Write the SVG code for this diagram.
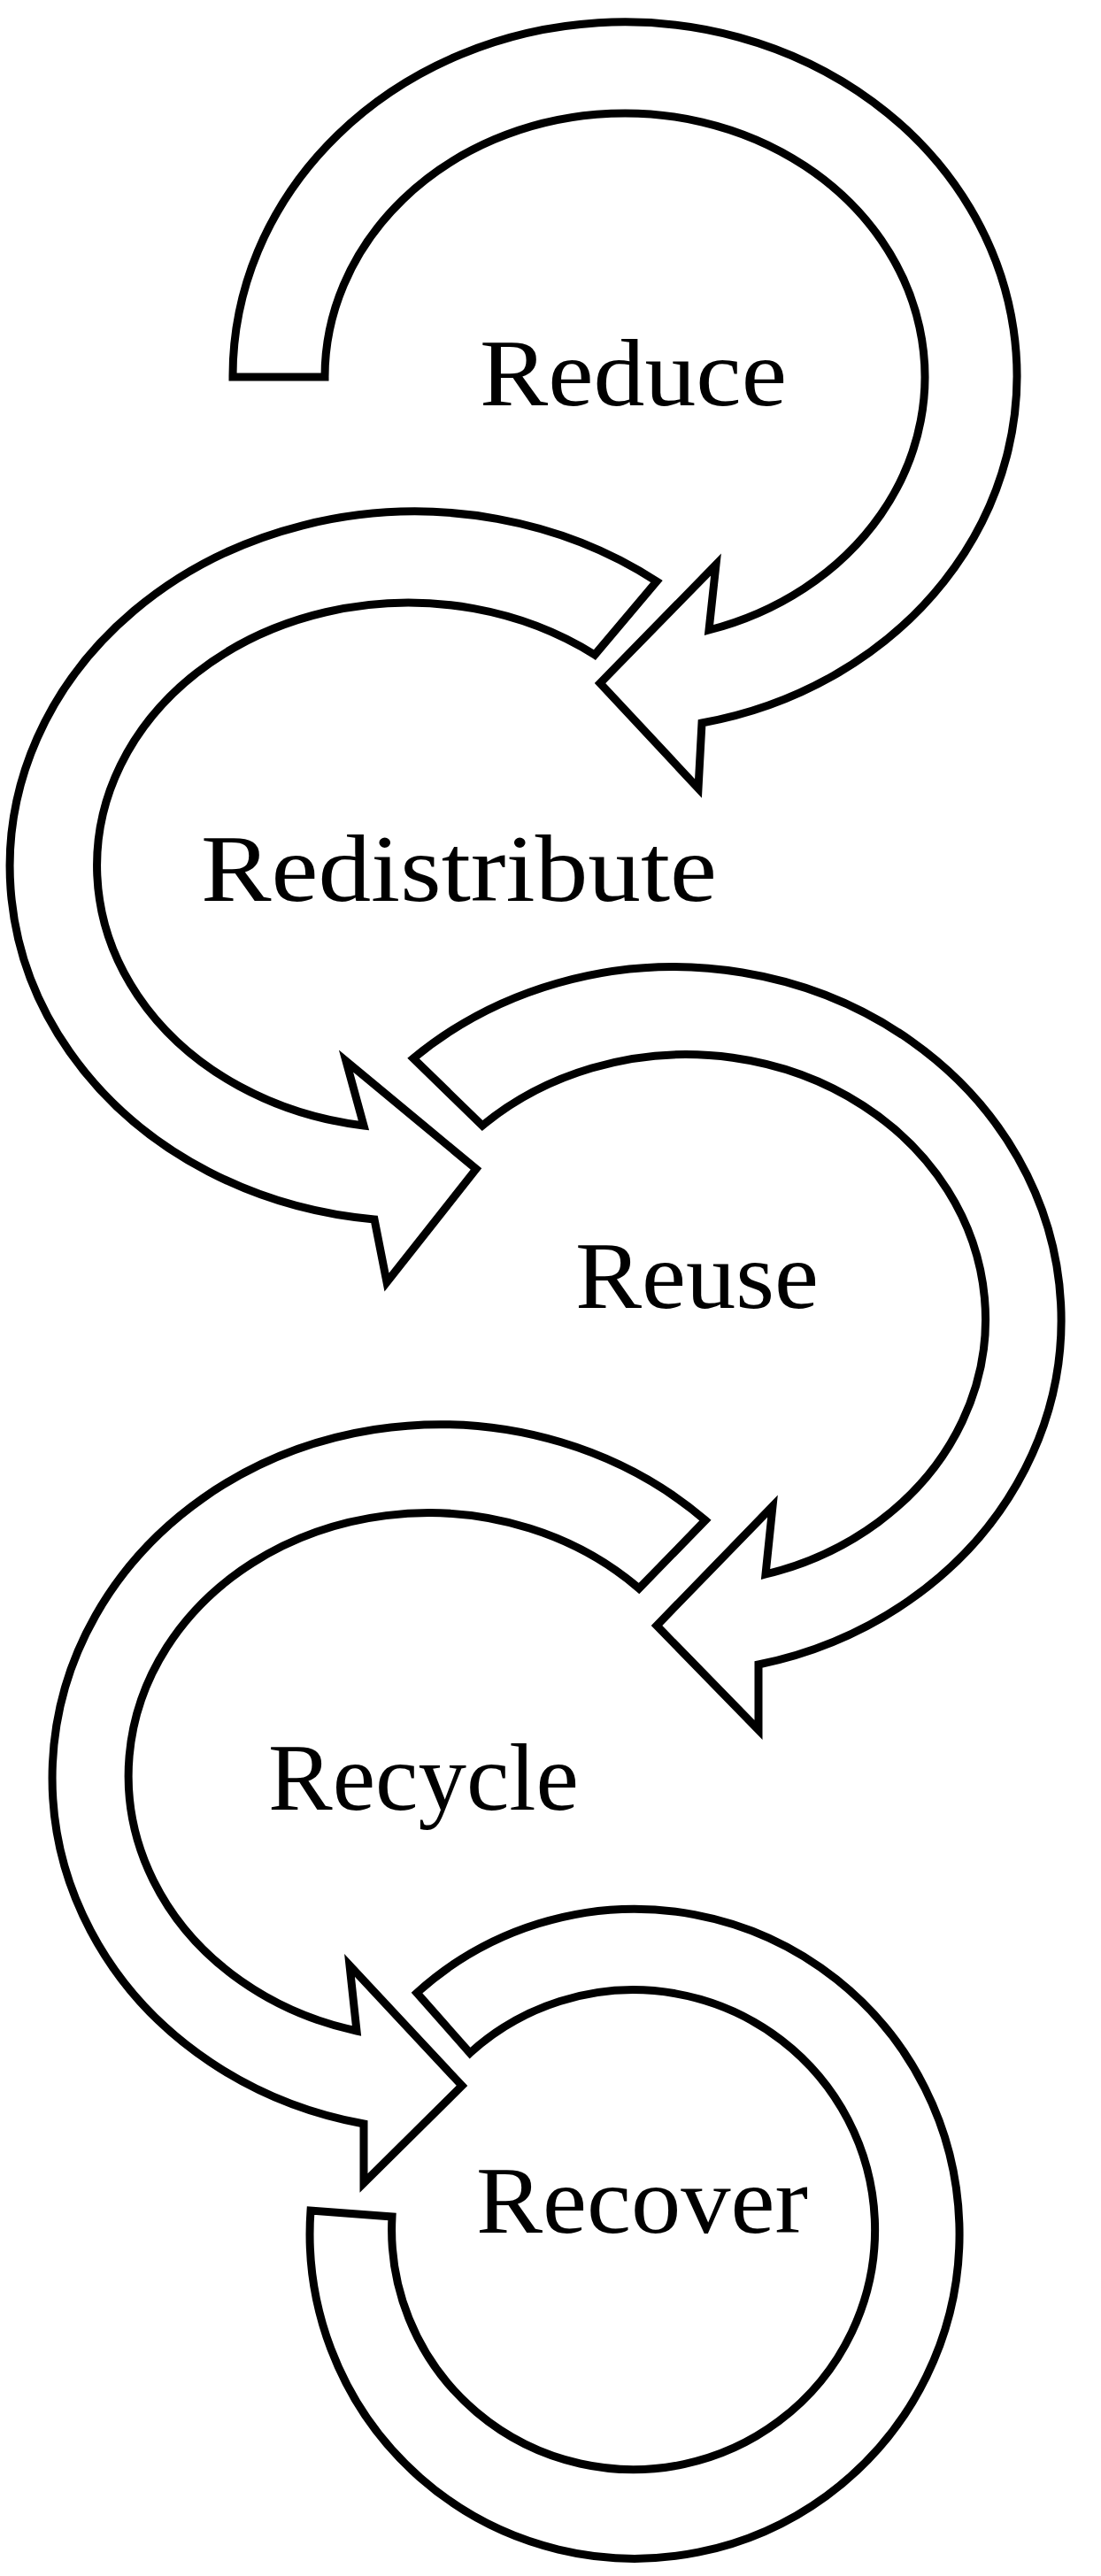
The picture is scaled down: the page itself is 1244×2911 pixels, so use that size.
<svg xmlns="http://www.w3.org/2000/svg" width="1244" height="2911" viewBox="0 0 1244 2911">
<style>
.a{fill:#fff;stroke:#000;stroke-width:9;stroke-linejoin:miter}
.t{font-family:"Liberation Serif","DejaVu Serif",serif;font-size:108px;fill:#000}
</style>
<rect width="1244" height="2911" fill="#fff"/>
<g id="connectors">
<path class="a" d="M 263 426 A 443 400 0 1 1 793 817 L 789 891 L 678 772 L 809 638 L 801 712 A 339 298 0 1 0 367 426 Z"/>
<path class="a" d="M 742 657 A 458 401 0 1 0 423 1378 L 437 1449 L 538 1321 L 391 1199 L 411 1272 A 352 297 0 1 1 672 740 Z"/>
<path class="a" d="M 467 1196 A 438 399 0 1 1 857 1881 L 857 1955 L 742 1837 L 873 1702 L 865 1779 A 338 299 0 1 0 545 1272 Z"/>
<path class="a" d="M 797 1718 A 438 399 0 1 0 411 2400 L 411 2467 L 522 2357 L 395 2221 L 403 2295 A 339 297 0 1 1 722 1795 Z"/>
<path class="a" d="M 471 2252 A 367 367 0 1 1 351 2498 L 443 2505 A 273 271 0 1 0 531 2320 Z"/>
</g>
<g id="reduce"><text class="t" x="542" y="458" textLength="347" lengthAdjust="spacingAndGlyphs">Reduce</text></g>
<g id="redistribute"><text class="t" x="227" y="1018" textLength="583" lengthAdjust="spacingAndGlyphs">Redistribute</text></g>
<g id="reuse"><text class="t" x="650" y="1478" textLength="275" lengthAdjust="spacingAndGlyphs">Reuse</text></g>
<g id="recycle"><text class="t" x="303" y="2045" textLength="351" lengthAdjust="spacingAndGlyphs">Recycle</text></g>
<g id="recover"><text class="t" x="538" y="2523" textLength="375" lengthAdjust="spacingAndGlyphs">Recover</text></g>
</svg>
